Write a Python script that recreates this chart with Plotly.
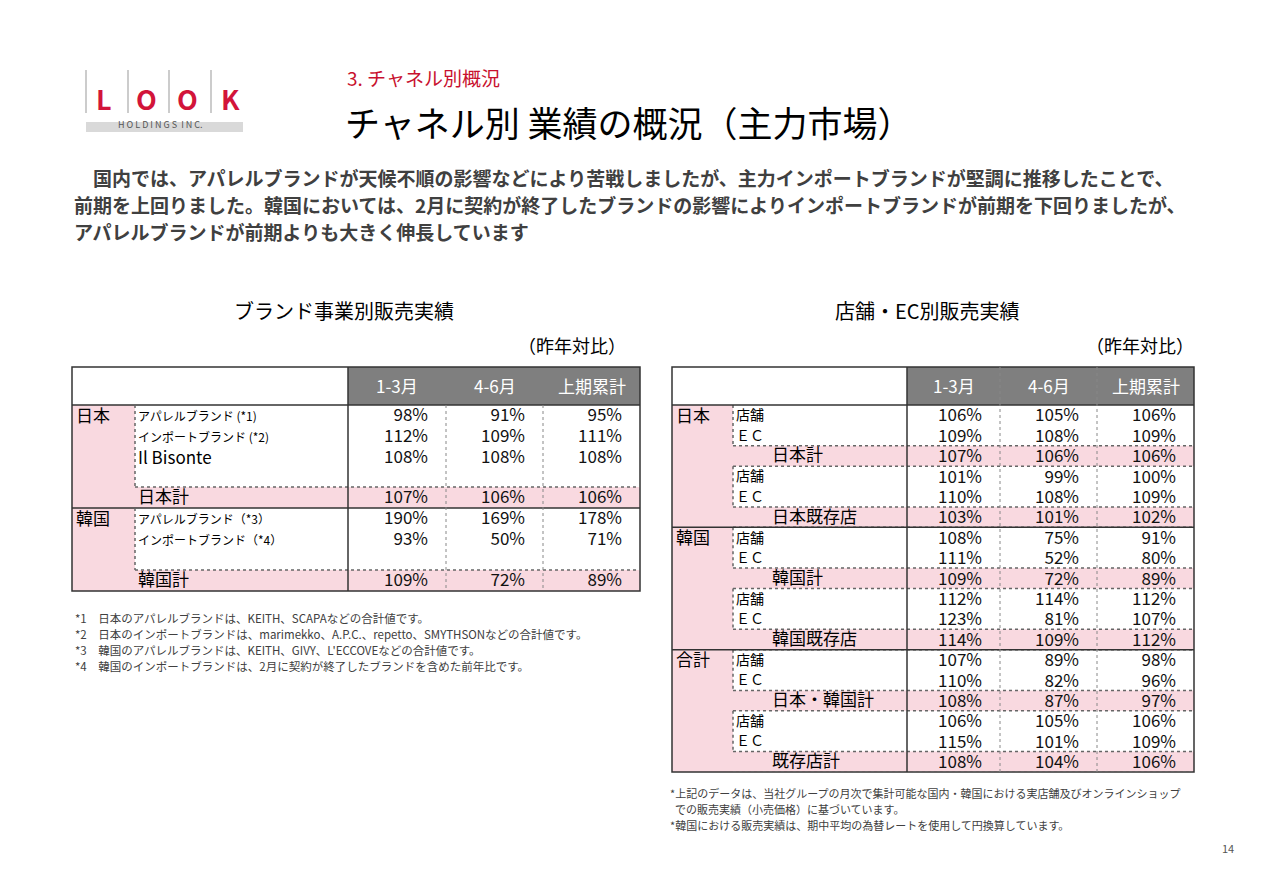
import plotly.graph_objects as go

columns = ["1-3月", "4-6月", "上期累計"]

# Left table: brand business
left_labels = ["アパレルブランド (*1)", "インポートブランド (*2)", "Il Bisonte", "", "日本計",
               "アパレルブランド（*3）", "インポートブランド（*4）", "", "韓国計"]
left_q1 = ["98%", "112%", "108%", "", "107%", "190%", "93%", "", "109%"]
left_q2 = ["91%", "109%", "108%", "", "106%", "169%", "50%", "", "72%"]
left_h1 = ["95%", "111%", "108%", "", "106%", "178%", "71%", "", "89%"]

# Right table: store / EC
right_labels = ["店舗", "ＥＣ", "日本計", "店舗", "ＥＣ", "日本既存店",
                "店舗", "ＥＣ", "韓国計", "店舗", "ＥＣ", "韓国既存店",
                "店舗", "ＥＣ", "日本・韓国計", "店舗", "ＥＣ", "既存店計"]
right_q1 = ["106%", "109%", "107%", "101%", "110%", "103%", "108%", "111%", "109%",
            "112%", "123%", "114%", "107%", "110%", "108%", "106%", "115%", "108%"]
right_q2 = ["105%", "108%", "106%", "99%", "108%", "101%", "75%", "52%", "72%",
            "114%", "81%", "109%", "89%", "82%", "87%", "105%", "101%", "104%"]
right_h1 = ["106%", "109%", "106%", "100%", "109%", "102%", "91%", "80%", "89%",
            "112%", "107%", "112%", "98%", "96%", "97%", "106%", "109%", "106%"]

FONT = "Noto Sans CJK JP"
PINK = "#f9d9e0"
GRAY = "#7f7f7f"
shapes, ann = [], []

def rect(x0, y0, x1, y1, fill=None, line="#404040", w=1, dash=None):
    shapes.append(dict(type="rect", xref="x", yref="y", x0=x0, y0=y0, x1=x1, y1=y1,
                       fillcolor=fill if fill else "rgba(0,0,0,0)",
                       line=dict(color=line, width=w, dash=dash) if w else dict(width=0), layer="below"))

def line(x0, y0, x1, y1, color="#555", w=1, dash=None):
    shapes.append(dict(type="line", xref="x", yref="y", x0=x0, y0=y0, x1=x1, y1=y1,
                       line=dict(color=color, width=w, dash=dash)))

def text(x, y, s, size=14, color="#000", anchor="left", bold=False):
    ann.append(dict(x=x, y=y, xref="x", yref="y", text=f"<b>{s}</b>" if bold else s, showarrow=False,
                    xanchor=anchor, yanchor="middle", font=dict(family=FONT, size=size, color=color)))

fig = go.Figure()

# ---------- Left table ----------
LX0, LX1, LY0, LY1 = 72, 640, 367, 591
lcol = [348, 446, 543, 640]
rect(72, 405, 135, 591, fill=PINK, w=0)
rect(348, 367, 640, 405, fill=GRAY, w=0)
rect(135, 487, 640, 508, fill=PINK, w=0)
rect(135, 570, 640, 591, fill=PINK, w=0)
rect(LX0, LY0, LX1, LY1, w=1.5, line="#333")
line(72, 405, 640, 405, "#333", 1.5)
line(72, 508, 640, 508, "#333", 1.5)
line(135, 405, 135, 487, "#666", 1.5, "dot")
line(135, 508, 135, 570, "#666", 1.5, "dot")
line(135, 487, 640, 487, "#666", 1.5, "dot")
line(135, 570, 640, 570, "#666", 1.5, "dot")
line(348, 367, 348, 591, "#333", 1.5)
for cx in lcol[1:3]:
    line(cx, 405, cx, 591, "#888", 1, "dot")
for i, c in enumerate(columns):
    text((lcol[i] + lcol[i + 1]) / 2, 385, c, 17, "white", "center")
text(74, 414, "日本", 17)
text(74, 517, "韓国", 17)
lrow_y = [415, 436, 457, 477, 497, 518, 539, 559, 580]
for i, lab in enumerate(left_labels):
    if not lab:
        continue
    if lab in ("日本計", "韓国計"):
        text(136, lrow_y[i] - 2, lab, 17)
    elif lab == "Il Bisonte":
        text(136, lrow_y[i] - 1, lab, 17)
    else:
        text(136, lrow_y[i], lab, 12)
for vals, ci in ((left_q1, 0), (left_q2, 1), (left_h1, 2)):
    fig.add_trace(go.Scatter(x=[lcol[ci + 1] - 18] * len(vals), y=[v + 2 for v in lrow_y], text=vals, mode="text",
                             textposition="middle left", textfont=dict(family=FONT, size=17, color="#111"),
                             hoverinfo="skip", showlegend=False))

# ---------- Right table ----------
RX0, RX1, RY0, RY1 = 672, 1194, 367, 772
rcol = [907, 1000, 1097, 1194]
rh = (RY1 - 405) / 18
rect(672, 405, 733, RY1, fill=PINK, w=0)
rect(907, 367, 1194, 405, fill=GRAY, w=0)
ry = [405 + rh * (i + 0.5) for i in range(18)]
for i in range(2, 18, 3):
    rect(733, 405 + rh * i, 1194, 405 + rh * (i + 1), fill=PINK, w=0)
    line(733, 405 + rh * i, 1194, 405 + rh * i, "#666", 1.5, "dot")
    line(733, 405 + rh * (i + 1), 1194, 405 + rh * (i + 1), "#666", 1.5, "dot")
    line(733, 405 + rh * (i - 2), 733, 405 + rh * i, "#666", 1.5, "dot")
rect(RX0, RY0, RX1, RY1, w=1.5, line="#333")
line(672, 405, 1194, 405, "#333", 1.5)
for k in (6, 12):
    line(672, 405 + rh * k, 1194, 405 + rh * k, "#333", 1.5)
line(907, 367, 907, RY1, "#333", 1.5)
for cx in rcol[1:3]:
    line(cx, 367, cx, RY1, "#888", 1, "dot")
for i, c in enumerate(columns):
    text((rcol[i] + rcol[i + 1]) / 2, 385, c, 17, "white", "center")
text(674, ry[0] - 1, "日本", 17)
text(674, ry[6] - 1, "韓国", 17)
text(674, ry[12] - 1, "合計", 17)
for i, lab in enumerate(right_labels):
    if i % 3 == 2:
        text(770, ry[i] - 2, lab, 17)
    else:
        text(734, ry[i] - 1, lab, 14)
for vals, ci in ((right_q1, 0), (right_q2, 1), (right_h1, 2)):
    fig.add_trace(go.Scatter(x=[rcol[ci + 1] - 18] * len(vals), y=[v + 2 for v in ry], text=vals, mode="text",
                             textposition="middle left", textfont=dict(family=FONT, size=17, color="#111"),
                             hoverinfo="skip", showlegend=False))

# ---------- Headings & text ----------
text(345, 77, "3. チャネル別概況", 19, "#c8102e")
text(343, 121, "チャネル別 業績の概況（主力市場）", 35, "#000")
body = ["　国内では、アパレルブランドが天候不順の影響などにより苦戦しましたが、主力インポートブランドが堅調に推移したことで、",
        "前期を上回りました。韓国においては、2月に契約が終了したブランドの影響によりインポートブランドが前期を下回りましたが、",
        "アパレルブランドが前期よりも大きく伸長しています"]
for i, b in enumerate(body):
    text(72, 177 + i * 27, b, 19, "#404040", bold=True)
text(344, 310, "ブランド事業別販売実績", 20, "#000", "center")
text(927, 310, "店舗・EC別販売実績", 20, "#000", "center")
text(628, 345, "（昨年対比）", 18, "#000", "right")
text(1196, 345, "（昨年対比）", 18, "#000", "right")
notes = ["*1　日本のアパレルブランドは、KEITH、SCAPAなどの合計値です。",
         "*2　日本のインポートブランドは、marimekko、A.P.C.、repetto、SMYTHSONなどの合計値です。",
         "*3　韓国のアパレルブランドは、KEITH、GIVY、L'ECCOVEなどの合計値です。",
         "*4　韓国のインポートブランドは、2月に契約が終了したブランドを含めた前年比です。"]
for i, n in enumerate(notes):
    text(73, 618 + i * 16, n, 11.5, "#404040")
rnotes = ["*上記のデータは、当社グループの月次で集計可能な国内・韓国における実店舗及びオンラインショップ",
          "  での販売実績（小売価格）に基づいています。",
          "*韓国における販売実績は、期中平均の為替レートを使用して円換算しています。"]
for i, n in enumerate(rnotes):
    text(668, 793 + i * 16, n, 11, "#404040")
text(1236, 848, "14", 11, "#555", "right")

# ---------- Logo ----------
for xl in (86, 128, 169, 211):
    line(xl, 70, xl, 113, "#999", 1)
for xc, ch in ((104, "L"), (146, "O"), (187, "O"), (230, "K")):
    text(xc, 98, ch, 27, "#d2143a", "center", bold=True)
rect(86, 122, 243, 132, fill="#d9d9d9", w=0)
text(160, 124, "H O L D I N G S  I N C.", 9, "#555", "center")

fig.update_layout(width=1280, height=886, margin=dict(l=0, r=0, t=0, b=0),
                  paper_bgcolor="white", plot_bgcolor="white",
                  xaxis=dict(range=[8, 1288], visible=False, fixedrange=True),
                  yaxis=dict(range=[894, 8], visible=False, fixedrange=True),
                  shapes=shapes, annotations=ann)
fig.write_html("out.html")
